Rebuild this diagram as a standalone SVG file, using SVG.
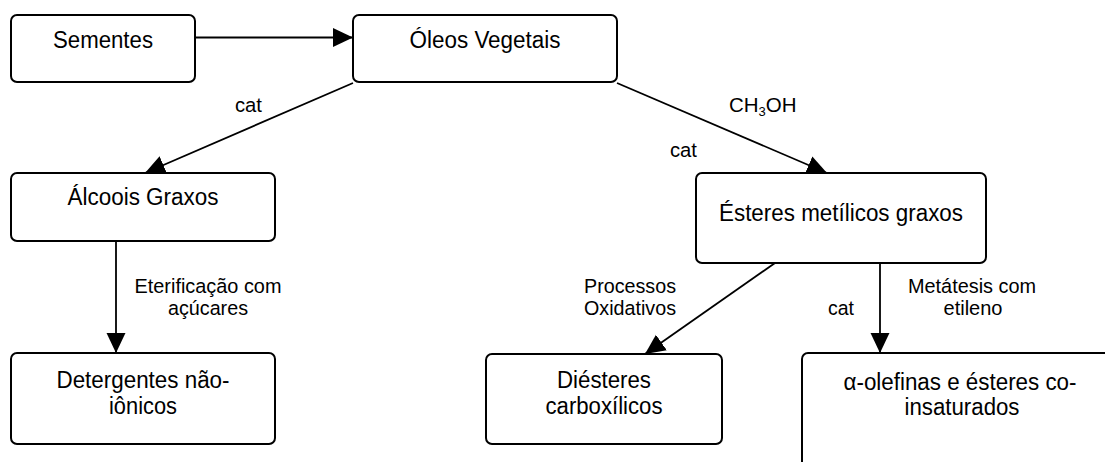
<svg xmlns="http://www.w3.org/2000/svg" width="1105" height="462" viewBox="0 0 1105 462">
  <style>
    .box { fill: #ffffff; stroke: #000000; stroke-width: 2; }
    .node-text { font-family: "Liberation Sans", Arial, sans-serif; font-size: 23px; fill: #000000; text-anchor: middle; }
    .edge { fill: none; stroke: #000000; stroke-width: 1.8; marker-end: url(#arrow); }
    .label { font-family: "Liberation Sans", Arial, sans-serif; font-size: 20.5px; fill: #000000; }
    .mid { text-anchor: middle; }
  </style>
  <defs>
    <marker id="arrow" markerUnits="userSpaceOnUse" markerWidth="20" markerHeight="20" viewBox="0 0 19 18" refX="19" refY="9" orient="auto">
      <path d="M0,0 L19,9 L0,18 z" fill="#000000"/>
    </marker>
  </defs>
  <rect width="1105" height="462" fill="#ffffff"/>

  <!-- connectors -->
  <g id="connectors">
    <line class="edge" x1="195" y1="37.5" x2="353" y2="37.5"/>
    <line class="edge" x1="353" y1="83" x2="145" y2="173"/>
    <line class="edge" x1="617" y1="83" x2="827" y2="173"/>
    <line class="edge" x1="116" y1="241" x2="116" y2="353"/>
    <line class="edge" x1="775" y1="263" x2="645" y2="354"/>
    <line class="edge" x1="880" y1="263" x2="880" y2="353"/>
  </g>

  <!-- connector labels -->
  <g id="labels">
    <text class="label" x="235" y="112" textLength="27" lengthAdjust="spacingAndGlyphs">cat</text>
    <text class="label" x="729" y="112">CH<tspan font-size="13" dy="4">3</tspan><tspan dy="-4">OH</tspan></text>
    <text class="label" x="670" y="157" textLength="27" lengthAdjust="spacingAndGlyphs">cat</text>
    <text class="label mid" x="208" y="293" textLength="147" lengthAdjust="spacingAndGlyphs">Eterificação com</text>
    <text class="label mid" x="208" y="315" textLength="80" lengthAdjust="spacingAndGlyphs">açúcares</text>
    <text class="label mid" x="630" y="293" textLength="92" lengthAdjust="spacingAndGlyphs">Processos</text>
    <text class="label mid" x="630" y="315" textLength="92" lengthAdjust="spacingAndGlyphs">Oxidativos</text>
    <text class="label" x="828" y="315" textLength="26" lengthAdjust="spacingAndGlyphs">cat</text>
    <text class="label mid" x="972" y="293" textLength="128" lengthAdjust="spacingAndGlyphs">Metátesis com</text>
    <text class="label mid" x="973" y="315" textLength="59" lengthAdjust="spacingAndGlyphs">etileno</text>
  </g>

  <!-- nodes -->
  <g id="sementes">
    <rect class="box" x="11" y="15" width="184" height="67" rx="6"/>
    <text class="node-text" x="103" y="48" textLength="100" lengthAdjust="spacingAndGlyphs">Sementes</text>
  </g>
  <g id="oleos-vegetais">
    <rect class="box" x="353" y="15" width="264" height="67" rx="6"/>
    <text class="node-text" x="485" y="48" textLength="151" lengthAdjust="spacingAndGlyphs">Óleos Vegetais</text>
  </g>
  <g id="alcoois-graxos">
    <rect class="box" x="11" y="173" width="264" height="68" rx="6"/>
    <text class="node-text" x="143" y="205" textLength="151" lengthAdjust="spacingAndGlyphs">Álcoois Graxos</text>
  </g>
  <g id="esteres-metilicos">
    <rect class="box" x="696" y="173" width="290" height="90" rx="6"/>
    <text class="node-text" x="841" y="221" textLength="244" lengthAdjust="spacingAndGlyphs">Ésteres metílicos graxos</text>
  </g>
  <g id="detergentes">
    <rect class="box" x="11" y="353" width="264" height="91" rx="6"/>
    <text class="node-text" x="143" y="388" textLength="173" lengthAdjust="spacingAndGlyphs">Detergentes não-</text>
    <text class="node-text" x="143" y="414" textLength="68" lengthAdjust="spacingAndGlyphs">iônicos</text>
  </g>
  <g id="diesteres">
    <rect class="box" x="486" y="354" width="236" height="90" rx="6"/>
    <text class="node-text" x="604" y="388" textLength="94" lengthAdjust="spacingAndGlyphs">Diésteres</text>
    <text class="node-text" x="604" y="414" textLength="117" lengthAdjust="spacingAndGlyphs">carboxílicos</text>
  </g>
  <g id="alfa-olefinas">
    <rect class="box" x="802" y="353" width="330" height="130" rx="6"/>
    <text class="node-text" x="960" y="390" textLength="233" lengthAdjust="spacingAndGlyphs">α-olefinas e ésteres co-</text>
    <text class="node-text" x="962" y="415" textLength="115" lengthAdjust="spacingAndGlyphs">insaturados</text>
  </g>
</svg>
